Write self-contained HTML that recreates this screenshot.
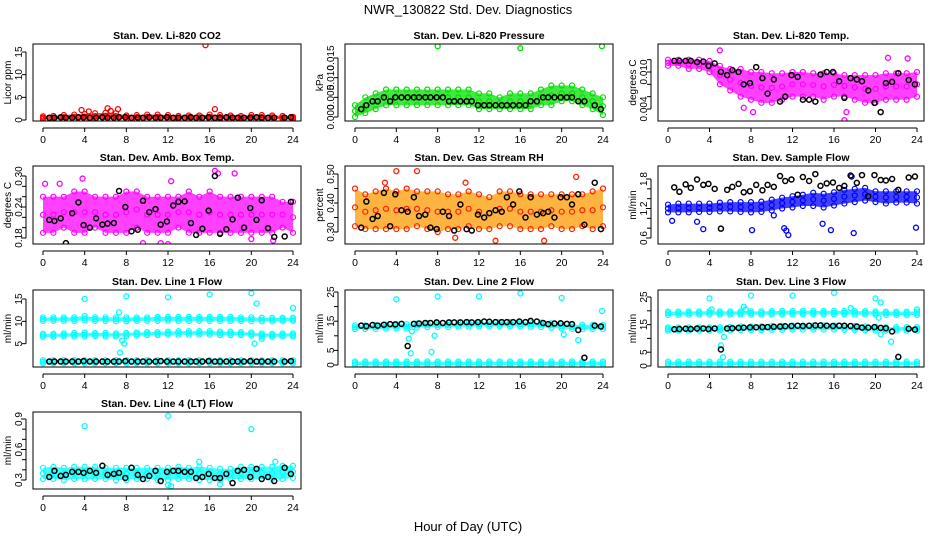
<!DOCTYPE html>
<html><head><meta charset="utf-8">
<style>
html,body{margin:0;padding:0;background:#fff;}
svg{display:block;font-family:"Liberation Sans",Arial,sans-serif;}
</style></head>
<body>
<svg id="chart" width="936" height="540" viewBox="0 0 936 540" xmlns="http://www.w3.org/2000/svg">
<text x="468" y="14" text-anchor="middle" font-size="13">NWR_130822  Std. Dev. Diagnostics</text>
<text x="468" y="531" text-anchor="middle" font-size="13">Hour of Day (UTC)</text>
</svg>
<script>
const hours=[0,1,2,3,4,5,6,7,8,9,10,11,12,13,14,15,16,17,18,19,20,21,22,23,24];
const blackHours=[0.6,1.1,1.7,2.2,2.8,3.4,3.9,4.5,5.1,5.7,6.2,6.8,7.3,7.9,8.5,9.1,9.6,10.2,10.8,11.3,11.9,12.5,13.0,13.6,14.2,14.7,15.3,15.9,16.5,17.0,17.6,18.2,18.7,19.3,19.9,20.5,21.0,21.6,22.2,23.2,23.8];
const xTickLabels=[0,4,8,12,16,20,24];

const co2Lo=[0.2,0.2,0.2,0.2,0.2,0.2,0.2,0.2,0.2,0.2,0.2,0.2,0.2,0.2,0.2,0.2,0.2,0.2,0.2,0.2,0.2,0.2,0.2,0.2,0.2];
const co2Hi=[0.8,0.9,1.1,1.2,1.3,1.5,1.6,1.5,1.0,1.1,1.2,1.2,1.1,0.9,1.0,1.0,1.2,1.1,1.0,0.9,1.1,1.1,1.0,0.9,0.7];
const co2Black=[0.5,0.5,0.6,0.5,0.5,0.6,0.6,0.5,0.5,0.6,0.5,0.5,0.6,0.6,0.5,0.5,0.5,0.6,0.5,0.5,0.6,0.5,0.5,0.5,0.6,0.5,0.5,0.6,0.5,0.5,0.6,0.5,0.5,0.5,0.5,0.6,0.5,0.5,0.5,0.5,0.6];
const co2OutX=[15.6,3.7,4.4,6.2,7.2,16.5,6.5];
const co2OutY=[16.5,2.2,1.9,2.6,2.4,2.4,2.0];
const kpaLo=[0,0.001,0.002,0.003,0.003,0.003,0.003,0.003,0.003,0.003,0.003,0.003,0.002,0.002,0.002,0.002,0.002,0.002,0.003,0.003,0.004,0.004,0.003,0.002,0.0005];
const kpaHi=[0.003,0.005,0.006,0.007,0.007,0.007,0.007,0.007,0.007,0.007,0.007,0.007,0.006,0.006,0.005,0.006,0.006,0.006,0.007,0.008,0.008,0.008,0.007,0.006,0.005];
const kpaBlack=[0.002,0.003,0.004,0.004,0.005,0.004,0.005,0.005,0.005,0.005,0.005,0.005,0.005,0.005,0.005,0.004,0.004,0.004,0.004,0.004,0.003,0.003,0.003,0.003,0.003,0.003,0.003,0.003,0.003,0.004,0.004,0.005,0.005,0.005,0.005,0.005,0.005,0.004,0.004,0.003,0.002];
const kpaOutX=[8,16,23.9];
const kpaOutY=[0.018,0.0175,0.018];
const tempLo=[0.011,0.011,0.0105,0.0105,0.010,0.008,0.007,0.006,0.0055,0.005,0.005,0.0055,0.006,0.006,0.006,0.0055,0.006,0.006,0.0055,0.005,0.005,0.0055,0.0055,0.0055,0.006];
const tempHi=[0.012,0.012,0.012,0.012,0.0118,0.011,0.0105,0.0105,0.010,0.010,0.0098,0.0098,0.010,0.010,0.0098,0.0098,0.0098,0.0095,0.0095,0.0095,0.0095,0.0098,0.0098,0.0098,0.010];
const tempBlack=[0.0118,0.0118,0.0118,0.0118,0.0116,0.0117,0.0110,0.0114,0.0100,0.0095,0.0103,0.0100,0.0080,0.0082,0.0108,0.0090,0.0065,0.0088,0.0052,0.0060,0.0095,0.0092,0.0055,0.0055,0.0052,0.0096,0.0100,0.0100,0.0085,0.0058,0.0090,0.0088,0.0085,0.0070,0.0050,0.0035,0.0082,0.0084,0.0098,0.0087,0.0080];
const tempOutX=[5,17,8.2,21.2,23.1,7.3,17.2];
const tempOutY=[0.0135,0.0022,0.0035,0.0123,0.0122,0.0042,0.0035];
const ambLo=[0.19,0.19,0.20,0.19,0.19,0.20,0.19,0.19,0.19,0.20,0.19,0.19,0.19,0.20,0.19,0.19,0.19,0.19,0.19,0.19,0.19,0.19,0.19,0.20,0.19];
const ambHi=[0.26,0.26,0.26,0.27,0.27,0.26,0.26,0.26,0.27,0.27,0.26,0.26,0.26,0.26,0.27,0.26,0.27,0.26,0.26,0.26,0.26,0.26,0.26,0.25,0.25];
const ambBlack=[0.215,0.213,0.218,0.17,0.228,0.249,0.205,0.200,0.218,0.206,0.208,0.209,0.271,0.240,0.193,0.196,0.252,0.230,0.236,0.206,0.212,0.243,0.250,0.251,0.209,0.186,0.198,0.233,0.300,0.188,0.197,0.216,0.258,0.200,0.238,0.215,0.253,0.199,0.182,0.183,0.250];
const ambOutX=[0.2,3.8,12.3,16.5,18.4,2.1,9.6,11.3,12,20,22.1,1.6,16.8];
const ambOutY=[0.285,0.295,0.29,0.31,0.305,0.16,0.17,0.17,0.168,0.178,0.175,0.285,0.305];
const rhLo=[0.32,0.31,0.31,0.31,0.31,0.31,0.32,0.31,0.30,0.31,0.31,0.32,0.31,0.31,0.32,0.32,0.31,0.31,0.31,0.32,0.31,0.31,0.32,0.31,0.32];
const rhHi=[0.45,0.43,0.44,0.45,0.44,0.45,0.44,0.44,0.44,0.43,0.43,0.44,0.43,0.42,0.44,0.44,0.43,0.43,0.43,0.43,0.43,0.43,0.43,0.44,0.45];
const rhBlack=[0.315,0.405,0.345,0.355,0.435,0.32,0.43,0.375,0.37,0.42,0.355,0.36,0.315,0.31,0.37,0.355,0.305,0.395,0.31,0.305,0.36,0.35,0.365,0.375,0.37,0.42,0.395,0.44,0.35,0.42,0.36,0.365,0.37,0.35,0.42,0.42,0.395,0.43,0.325,0.47,0.31];
const rhOutX=[4,6,13.6,18.3,21.4,9.7,2.9,10.7];
const rhOutY=[0.51,0.51,0.27,0.27,0.49,0.28,0.47,0.47];
const flowLo=[1.12,1.12,1.12,1.13,1.13,1.14,1.14,1.13,1.12,1.13,1.16,1.2,1.22,1.25,1.25,1.22,1.26,1.3,1.33,1.36,1.33,1.3,1.32,1.32,1.3];
const flowHi=[1.28,1.3,1.3,1.3,1.3,1.32,1.33,1.33,1.33,1.34,1.38,1.42,1.45,1.48,1.52,1.50,1.53,1.58,1.6,1.62,1.55,1.55,1.55,1.55,1.55];
const flowBlack=[1.63,1.54,1.69,1.62,1.79,1.68,1.70,1.60,0.79,1.58,1.64,1.70,1.53,1.55,1.68,1.57,1.68,1.64,1.86,1.76,1.79,1.48,1.84,1.76,1.90,1.66,1.71,1.73,1.62,1.66,1.87,1.72,1.88,1.45,1.88,1.78,1.77,1.80,1.58,1.83,1.85];
const flowOutX=[0.4,3.4,8.1,11.4,11.6,15.7,17.9,23.9,2.8,10.2,14.9,17.7,11.2];
const flowOutY=[0.95,0.78,0.76,0.75,0.66,0.76,0.7,0.81,0.93,1.06,0.89,1.85,0.8];
const l1TopLo=[10.1,10.1,10.1,10.1,10.2,10.1,10.1,10.0,10.0,10.1,10.1,10.1,10.1,10.1,10.1,10.1,10.1,10.1,10.1,10.1,10.0,10.0,10.0,10.1,10.1];
const l1TopHi=[10.9,10.9,10.9,10.9,11.2,10.9,10.9,10.9,10.9,10.9,10.9,11.0,11.0,11.0,11.0,11.0,11.0,11.0,11.0,10.9,10.9,10.8,10.8,10.8,10.8];
const l1MidLo=[6.5,6.5,6.6,6.6,6.6,6.7,6.6,6.6,6.7,6.8,6.9,6.9,7.0,7.0,7.0,7.0,7.0,6.9,6.9,6.9,6.8,6.6,6.5,6.6,6.6];
const l1MidHi=[7.2,7.2,7.3,7.4,7.5,7.4,7.4,7.3,7.4,7.5,7.6,7.6,7.7,7.8,7.8,7.8,7.8,7.7,7.7,7.6,7.5,7.3,7.2,7.3,7.3];
const l1LowLo=[0.6,0.6,0.6,0.6,0.6,0.6,0.6,0.6,0.6,0.6,0.6,0.6,0.6,0.6,0.6,0.6,0.6,0.6,0.6,0.6,0.6,0.6,0.6,0.6,0.6];
const l1LowHi=[1.3,1.3,1.3,1.3,1.3,1.3,1.3,1.3,1.3,1.3,1.3,1.3,1.3,1.3,1.3,1.3,1.3,1.3,1.3,1.3,1.3,1.3,1.3,1.3,1.3];
const l1Black=[1.0,1.0,1.0,1.0,1.0,1.0,1.1,1.0,1.0,1.0,1.0,1.0,1.0,1.1,1.0,1.0,1.0,1.0,1.0,1.1,1.0,1.0,1.0,1.0,1.0,1.0,1.0,1.1,1.0,1.0,1.0,1.0,1.0,1.0,1.1,1.0,1.0,1.0,1.0,1.0,1.1];
const l1OutX=[4,8,12,16,20,24,7.4,7.8,20.3,20.5,7.3,7.6,21];
const l1OutY=[15,15.6,15.4,16,16.3,13,3,5,5,14,12,5.7,6.1];
const l2TopLo=[12.3,12.3,12.3,12.4,12.5,12.5,12.8,12.9,13.0,13.0,13.1,13.1,13.2,13.2,13.2,13.2,13.2,13.1,13.0,12.7,12.5,12.3,12.3,12.3,12.3];
const l2TopHi=[13.6,13.6,13.7,13.8,14.0,14.0,14.2,14.3,14.3,14.4,14.5,14.6,14.6,14.7,14.7,14.7,14.7,14.6,14.5,14.3,14.0,13.8,13.8,13.7,13.7];
const l2LowLo=[0,0,0,0,0,0,0,0,0,0,0,0,0,0,0,0,0,0,0,0,0,0,0,0,0];
const l2LowHi=[1.2,1.2,1.2,1.2,1.2,1.2,1.2,1.2,1.2,1.2,1.2,1.2,1.2,1.2,1.2,1.2,1.2,1.2,1.2,1.2,1.2,1.2,1.2,1.2,1.2];
const l2Black=[13.5,13.3,13.7,13.5,13.8,14,13.9,14.1,6.5,14.1,14.2,14.4,14.4,14.6,14.4,14.6,14.6,14.6,14.7,14.6,14.7,14.9,14.8,14.7,14.7,14.7,14.7,14.9,14.7,15.1,14.9,14.4,14.0,14.2,14.3,14.1,14.0,12,2.5,13.5,13.2];
const l2OutX=[4,8,12,16,20,23.9,5.2,5.4,7.4,7.7,21.6,20.2,5.5];
const l2OutY=[22.5,23.5,23.5,24.5,23,18.5,9,4,4.5,10,8.5,10.5,11.5];
const l3TopLo=[18.5,18.5,18.6,18.6,18.6,18.6,18.6,18.6,18.6,18.6,18.6,18.7,18.7,18.7,18.7,18.7,18.7,18.7,18.6,18.6,18.6,18.5,18.5,18.5,18.5];
const l3TopHi=[19.7,19.7,19.8,19.8,19.9,19.8,19.8,19.8,19.8,19.8,19.9,20.0,20.0,20.0,20.0,20.0,20.0,20.0,19.9,19.9,19.8,19.7,19.7,19.7,19.7];
const l3MidLo=[12.8,12.8,12.8,12.8,12.8,12.8,12.9,13.0,13.0,13.0,13.1,13.1,13.2,13.2,13.2,13.2,13.2,13.1,13.0,12.9,12.8,12.8,12.8,12.8,12.8];
const l3MidHi=[14.0,14.0,14.0,14.0,14.0,14.0,14.2,14.3,14.3,14.4,14.5,14.6,14.6,14.7,14.7,14.7,14.7,14.6,14.5,14.3,14.2,14.1,14.1,14.1,14.1];
const l3LowLo=[0.3,0.3,0.3,0.3,0.3,0.3,0.3,0.3,0.3,0.3,0.3,0.3,0.3,0.3,0.3,0.3,0.3,0.3,0.3,0.3,0.3,0.3,0.3,0.3,0.3];
const l3LowHi=[1.6,1.6,1.6,1.6,1.6,1.6,1.6,1.6,1.6,1.6,1.6,1.6,1.6,1.6,1.6,1.6,1.6,1.6,1.6,1.6,1.6,1.6,1.6,1.6,1.6];
const l3Black=[13.3,13.4,13.5,13.4,13.6,13.6,13.4,13.6,6.0,13.6,13.7,13.8,13.9,14.0,14.0,14.1,14.1,14.2,14.3,14.4,14.5,14.6,14.5,14.6,14.7,14.7,14.6,14.5,14.6,14.6,14.5,14.3,13.9,13.9,14.1,13.8,13.7,12.5,3.3,13.5,13.2];
const l3OutX=[4,8,12,16,20,4.2,7.3,5.1,5.3,5.4,20.5,20.3,21.5,17.6,24,20.5,7.5];
const l3OutY=[24.5,25.5,25.5,26.5,24.5,20.5,21.5,7.5,3.2,10.5,23,17.5,8.8,21,20.5,11.5,20.5];
const l4Lo=[0.31,0.31,0.30,0.31,0.31,0.31,0.31,0.30,0.30,0.31,0.31,0.30,0.30,0.31,0.31,0.30,0.30,0.30,0.31,0.31,0.31,0.31,0.31,0.31,0.32];
const l4Hi=[0.42,0.43,0.42,0.43,0.43,0.43,0.42,0.42,0.42,0.42,0.42,0.42,0.42,0.43,0.42,0.43,0.42,0.41,0.41,0.43,0.43,0.43,0.43,0.44,0.44];
const l4Black=[0.33,0.39,0.34,0.35,0.38,0.38,0.37,0.39,0.37,0.44,0.35,0.36,0.37,0.32,0.42,0.35,0.31,0.34,0.39,0.29,0.38,0.39,0.39,0.38,0.38,0.32,0.33,0.36,0.32,0.32,0.36,0.27,0.39,0.40,0.33,0.41,0.31,0.33,0.29,0.42,0.36];
const l4OutX=[4,12,20,15,22.3,12,17,12.3];
const l4OutY=[0.83,0.93,0.8,0.48,0.48,0.25,0.26,0.24];

const svg=document.getElementById('chart');
const NS='http://www.w3.org/2000/svg';
const colBox=[[33,301,43,293],[345,613,355,603],[658,924,668,917]];
const rowBox=[[44,121],[166,244],[290,367],[412,489]];

function mk(tag,attrs,parent){const e=document.createElementNS(NS,tag);for(const k in attrs)e.setAttribute(k,attrs[k]);(parent||svg).appendChild(e);return e;}

function panel(p){
  const [bl,br,x0,x24]=colBox[p.col];const [bt,bb]=rowBox[p.row];
  const g=mk('g',{});
  
  
  const xs=h=>x0+(x24-x0)*h/24;
  const ys=v=>p.ref[1]+(v-p.ref[0])*(p.ref[3]-p.ref[1])/(p.ref[2]-p.ref[0]);
  const clip=mk('clipPath',{id:'clip-'+p.name},g);
  mk('rect',{x:bl,y:bt,width:br-bl,height:bb-bt},clip);
  const plot=mk('g',{'clip-path':'url(#clip-'+p.name+')'},g);
  p.bands.forEach((b,bi)=>{
    let pts=[];
    hours.forEach((h,i)=>pts.push(xs(h)+','+ys(b.hi[i])));
    for(let i=hours.length-1;i>=0;i--)pts.push(xs(hours[i])+','+ys(b.lo[i]));
    const poly=mk('polygon',{points:pts.join(' '),fill:p.fill||p.color,'fill-opacity':'0.75',stroke:'none'},plot);
    
    
    hours.forEach((h,i)=>{
      [b.lo[i],b.hi[i],(b.lo[i]+b.hi[i])/2].forEach(v=>{
        const c=mk('circle',{cx:xs(h),cy:ys(v),r:2.5,fill:'none',stroke:p.color,'stroke-width':1.2},plot);
        
        
      });
    });
  });
  p.outX.forEach((h,i)=>{
    const c=mk('circle',{cx:xs(h),cy:ys(p.outY[i]),r:2.5,fill:'none',stroke:p.color,'stroke-width':1.3},plot);
    
    
  });
  blackHours.forEach((h,i)=>{
    const c=mk('circle',{cx:xs(h),cy:ys(p.black[i]),r:2.5,fill:'none',stroke:'#000','stroke-width':1.5},plot);
    
    
  });
  const box=mk('rect',{x:bl,y:bt,width:br-bl,height:bb-bt,fill:'none',stroke:'#000','stroke-width':1},g);
  
  
  mk('line',{x1:x0,x2:x24,y1:bb+7,y2:bb+7,stroke:'#000'},g);
  xTickLabels.forEach(t=>{
    mk('line',{x1:xs(t),x2:xs(t),y1:bb+7,y2:bb+11,stroke:'#000'},g);
    const tx=mk('text',{x:xs(t),y:bb+22,'text-anchor':'middle','font-size':10.5},g);
    tx.textContent=t;
    
    
  });
  const ax=bl-7;
  mk('line',{x1:ax,x2:ax,y1:ys(p.ticks[0]),y2:ys(p.ticks[p.ticks.length-1]),stroke:'#000'},g);
  p.ticks.forEach(t=>{
    mk('line',{x1:ax-4,x2:ax,y1:ys(t),y2:ys(t),stroke:'#000'},g);
  });
  const tlx=bl-11;
  p.labels.forEach((t,i)=>{
    const y=ys(t);
    const tx=mk('text',{x:tlx,y:y,'text-anchor':'middle','font-size':10,transform:'rotate(-90 '+tlx+' '+y+')'},g);
    tx.textContent=p.labelText[i];
    
    
  });
  const ym=(bt+bb)/2, yl=bl-22;
  const yt=mk('text',{x:yl,y:ym,'text-anchor':'middle','font-size':10,transform:'rotate(-90 '+yl+' '+ym+')'},g);
  yt.textContent=p.ylab;
  
  
  const ti=mk('text',{x:(bl+br)/2,y:bt-5,'text-anchor':'middle','font-size':10.5,'font-weight':'bold'},g);
  ti.textContent=p.title;
  
  
}

panel({name:'co2',col:0,row:0,title:'Stan. Dev. Li-820 CO2',ylab:'Licor ppm',color:'#ff0000',ref:[0,120,15,52],ticks:[0,5,10,15],labels:[0,5,10,15],labelText:['0','5','10','15'],bands:[{lo:co2Lo,hi:co2Hi}],black:co2Black,outX:co2OutX,outY:co2OutY});
panel({name:'pressure',col:1,row:0,title:'Stan. Dev. Li-820 Pressure',ylab:'kPa',color:'#00e000',ref:[0,117,0.015,58],ticks:[0,0.005,0.01,0.015],labels:[0,0.005,0.01,0.015],labelText:['0.000','0.005','0.010','0.015'],bands:[{lo:kpaLo,hi:kpaHi}],black:kpaBlack,outX:kpaOutX,outY:kpaOutY});
panel({name:'li820-temp',col:2,row:0,title:'Stan. Dev. Li-820 Temp.',ylab:'degrees C',color:'#ff00ff',ref:[0.004,109,0.010,72],ticks:[0.004,0.006,0.008,0.010,0.012],labels:[0.004,0.010],labelText:['0.004','0.010'],bands:[{lo:tempLo,hi:tempHi}],black:tempBlack,outX:tempOutX,outY:tempOutY});
panel({name:'amb-box-temp',col:0,row:1,title:'Stan. Dev. Amb. Box Temp.',ylab:'degrees C',color:'#ff00ff',ref:[0.18,238,0.30,176],ticks:[0.18,0.20,0.22,0.24,0.26,0.28,0.30],labels:[0.18,0.24,0.30],labelText:['0.18','0.24','0.30'],bands:[{lo:ambLo,hi:ambHi}],black:ambBlack,outX:ambOutX,outY:ambOutY});
panel({name:'gas-stream-rh',col:1,row:1,title:'Stan. Dev. Gas Stream RH',ylab:'percent',color:'#ff2000',fill:'#ff9a00',ref:[0.30,232,0.50,174],ticks:[0.30,0.35,0.40,0.45,0.50],labels:[0.30,0.40,0.50],labelText:['0.30','0.40','0.50'],bands:[{lo:rhLo,hi:rhHi}],black:rhBlack,outX:rhOutX,outY:rhOutY});
panel({name:'sample-flow',col:2,row:1,title:'Stan. Dev. Sample Flow',ylab:'ml/min',color:'#0000ff',ref:[0.6,238,1.8,179],ticks:[0.6,0.8,1.0,1.2,1.4,1.6,1.8],labels:[0.6,1.2,1.8],labelText:['0.6','1.2','1.8'],bands:[{lo:flowLo,hi:flowHi}],black:flowBlack,outX:flowOutX,outY:flowOutY});
panel({name:'line1-flow',col:0,row:2,title:'Stan. Dev. Line 1 Flow',ylab:'ml/min',color:'#00ffff',ref:[0,366,15,299],ticks:[5,10,15],labels:[5,10,15],labelText:['5','10','15'],bands:[{lo:l1TopLo,hi:l1TopHi},{lo:l1MidLo,hi:l1MidHi},{lo:l1LowLo,hi:l1LowHi}],black:l1Black,outX:l1OutX,outY:l1OutY});
panel({name:'line2-flow',col:1,row:2,title:'Stan. Dev. Line 2 Flow',ylab:'ml/min',color:'#00ffff',ref:[0,365,25,292],ticks:[0,5,10,15,20,25],labels:[0,5,15,25],labelText:['0','5','15','25'],bands:[{lo:l2TopLo,hi:l2TopHi},{lo:l2LowLo,hi:l2LowHi}],black:l2Black,outX:l2OutX,outY:l2OutY});
panel({name:'line3-flow',col:2,row:2,title:'Stan. Dev. Line 3 Flow',ylab:'ml/min',color:'#00ffff',ref:[0,366,25,297],ticks:[0,5,10,15,20,25],labels:[0,5,15,25],labelText:['0','5','15','25'],bands:[{lo:l3TopLo,hi:l3TopHi},{lo:l3MidLo,hi:l3MidHi},{lo:l3LowLo,hi:l3LowHi}],black:l3Black,outX:l3OutX,outY:l3OutY});
panel({name:'line4-lt-flow',col:0,row:3,title:'Stan. Dev. Line 4 (LT) Flow',ylab:'ml/min',color:'#00ffff',ref:[0.3,480,0.9,419],ticks:[0.3,0.4,0.5,0.6,0.7,0.8,0.9],labels:[0.3,0.6,0.9],labelText:['0.3','0.6','0.9'],bands:[{lo:l4Lo,hi:l4Hi}],black:l4Black,outX:l4OutX,outY:l4OutY});
</script>
</body></html>
